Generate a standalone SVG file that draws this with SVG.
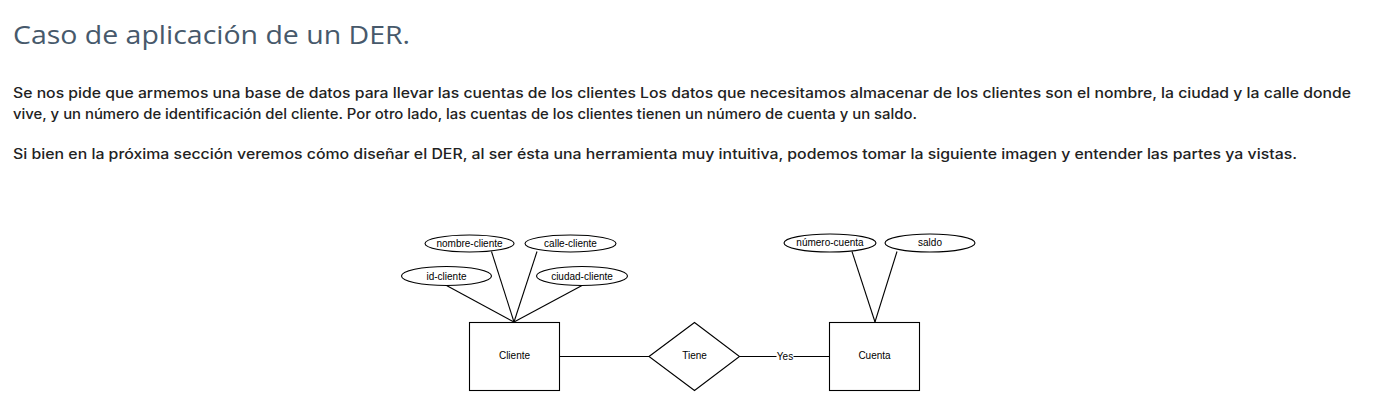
<svg xmlns="http://www.w3.org/2000/svg" width="1379" height="419" viewBox="0 0 1379 419">
<style>
.title{font-family:"Open Sans","Liberation Sans",sans-serif;font-size:26px;fill:#47596b;font-weight:400}
.body{font-family:Inter,"Open Sans","Liberation Sans",sans-serif;font-size:14px;fill:#222;font-weight:500}
.shape{fill:#fff;stroke:#000;stroke-width:1.1}
.lbl{font-family:"Liberation Sans",Arial,sans-serif;font-size:10px;fill:#000;text-anchor:middle}
.conn{stroke:#000;stroke-width:1.1;fill:none}
</style>
<rect width="1379" height="419" fill="#fff"/>
<text class="title" x="13" y="44" textLength="397" lengthAdjust="spacingAndGlyphs">Caso de aplicación de un DER.</text>
<text class="body" x="13" y="98" textLength="1338" lengthAdjust="spacingAndGlyphs">Se nos pide que armemos una base de datos para llevar las cuentas de los clientes Los datos que necesitamos almacenar de los clientes son el nombre, la ciudad y la calle donde</text>
<text class="body" x="13" y="119" textLength="904" lengthAdjust="spacingAndGlyphs">vive, y un número de identificación del cliente. Por otro lado, las cuentas de los clientes tienen un número de cuenta y un saldo.</text>
<text class="body" x="13" y="159" textLength="1284" lengthAdjust="spacingAndGlyphs">Si bien en la próxima sección veremos cómo diseñar el DER, al ser ésta una herramienta muy intuitiva, podemos tomar la siguiente imagen y entender las partes ya vistas.</text>
<g id="connectors">
<line class="conn" x1="491.5" y1="251.5" x2="514" y2="322"/>
<line class="conn" x1="537" y1="251.5" x2="514" y2="322"/>
<line class="conn" x1="446.5" y1="285.5" x2="514" y2="322"/>
<line class="conn" x1="582" y1="285.5" x2="514" y2="322"/>
<line class="conn" x1="559" y1="356.5" x2="649" y2="356.5"/>
<line class="conn" x1="739.5" y1="356.5" x2="776.5" y2="356.5"/>
<line class="conn" x1="793.5" y1="356.5" x2="829.5" y2="356.5"/>
<line class="conn" x1="852" y1="251.5" x2="875" y2="322"/>
<line class="conn" x1="897" y1="251.5" x2="875" y2="322"/>
<text class="lbl" x="785" y="360">Yes</text>
</g>
<g id="nombre-cliente"><ellipse class="shape" cx="469.5" cy="243.5" rx="44.5" ry="8.5"/><text class="lbl" x="469.5" y="247">nombre-cliente</text></g>
<g id="calle-cliente"><ellipse class="shape" cx="570.5" cy="243.5" rx="45.5" ry="8.5"/><text class="lbl" x="570.5" y="247">calle-cliente</text></g>
<g id="id-cliente"><ellipse class="shape" cx="446.5" cy="276" rx="45" ry="9.5"/><text class="lbl" x="446.5" y="279.5">id-cliente</text></g>
<g id="ciudad-cliente"><ellipse class="shape" cx="582" cy="276" rx="45.5" ry="9.5"/><text class="lbl" x="582" y="279.5">ciudad-cliente</text></g>
<g id="Cliente"><rect class="shape" x="469.5" y="322.5" width="90" height="68"/><text class="lbl" x="514.5" y="359">Cliente</text></g>
<g id="Tiene"><polygon class="shape" points="649,356.5 694.5,322.5 739.5,356.5 694.5,390.5"/><text class="lbl" x="694.5" y="359">Tiene</text></g>
<g id="Cuenta"><rect class="shape" x="829.5" y="322.5" width="90" height="68"/><text class="lbl" x="874.5" y="359">Cuenta</text></g>
<g id="numero-cuenta"><ellipse class="shape" cx="830" cy="243" rx="46" ry="9"/><text class="lbl" x="830" y="246">número-cuenta</text></g>
<g id="saldo"><ellipse class="shape" cx="930" cy="243" rx="45" ry="9"/><text class="lbl" x="930" y="246">saldo</text></g>
</svg>
